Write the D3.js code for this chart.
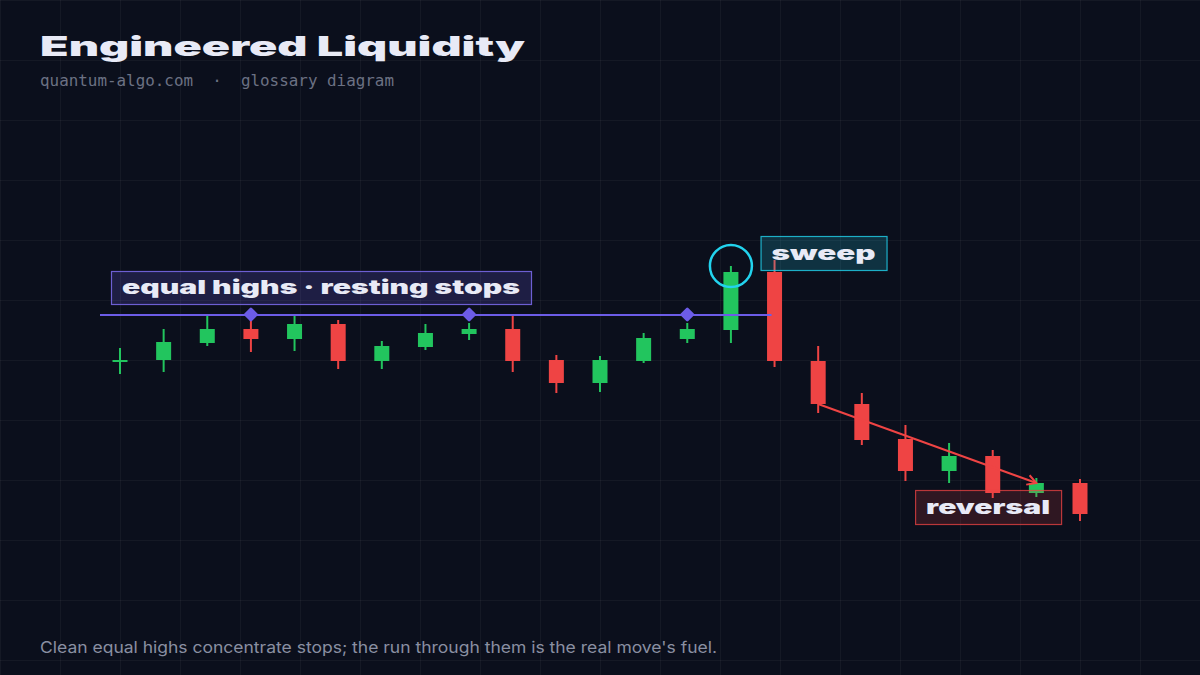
<!DOCTYPE html>
<html><head><meta charset="utf-8">
<script src="https://cdn.jsdelivr.net/npm/d3@7"></script>
<style>html,body{margin:0;padding:0;background:#0b0f1c;} svg{display:block}</style>
</head><body><svg id="c" width="1200" height="675"></svg>
<script>
// ---- data (price units) ----
const opens  = [117.9,118.0,119.7,121.1,120.1,121.6,117.9,119.3,120.6,121.1,118.0,115.7,117.9,120.1,121.0,126.8,117.9,113.6,110.1,106.9,108.4,104.7,105.7];
const highs  = [119.2,121.1,122.4,122.5,122.4,122.0,119.9,121.6,121.7,122.4,118.5,118.4,120.7,121.7,127.4,128.0,119.4,114.7,111.5,109.7,109.0,106.2,106.1];
const lows   = [116.6,116.8,119.4,118.8,118.9,117.1,117.1,119.0,120.0,116.8,114.7,114.8,117.7,119.7,119.7,117.3,112.7,109.5,105.9,105.7,104.2,104.3,101.9];
const closes = [118.0,119.8,121.1,120.1,121.6,117.9,119.4,120.7,121.1,117.9,115.7,118.0,120.2,121.1,126.8,117.9,113.6,110.0,106.9,108.4,104.7,105.7,102.6];
const equalHighLevel = 122.5;
const equalHighMarks = [3, 8, 13];
const sweepIndex = 14, sweepBar = 15;
const trendFrom = 16, trendTo = 21;
const titleText = "Engineered Liquidity";
const subtitleText = "quantum-algo.com  \u00b7  glossary diagram";
const footerText = "Clean equal highs concentrate stops; the run through them is the real move's fuel.";
const labelEq = "equal highs \u00b7 resting stops";
const labelSweep = "sweep";
const labelRev = "reversal";

const W = 1200, H = 675;
const GREEN = "#22c55e", RED = "#ef4444", PURPLE = "#6c5ce7", CYAN = "#22d3ee";
const svg = d3.select("#c");

svg.append("rect").attr("width", W).attr("height", H).attr("fill", "#0b0f1c");

// grid
const grid = svg.append("g").attr("stroke", "rgba(255,255,255,0.045)").attr("stroke-width", 1);
d3.range(0, W + 1, 60).forEach(x => grid.append("line").attr("x1", x + 0.5).attr("x2", x + 0.5).attr("y1", 0).attr("y2", H));
d3.range(0, H + 1, 60).forEach(y => grid.append("line").attr("y1", y + 0.5).attr("y2", y + 0.5).attr("x1", 0).attr("x2", W));

// scales
const idx = d3.range(opens.length);
const x = d3.scalePoint().domain(idx).range([120, 1080]);
const y = d3.scaleLinear().domain([100, 130]).range([540, 240]);
const bodyW = 15;

// candles
const cg = svg.append("g");
const candles = cg.selectAll("g.c").data(idx).join("g").attr("class", "c");
candles.append("line")
  .attr("x1", i => x(i)).attr("x2", i => x(i))
  .attr("y1", i => y(highs[i])).attr("y2", i => y(lows[i]))
  .attr("stroke", i => closes[i] >= opens[i] ? GREEN : RED).attr("stroke-width", 2);
candles.append("rect")
  .attr("x", i => x(i) - bodyW / 2).attr("width", bodyW)
  .attr("y", i => y(Math.max(opens[i], closes[i])))
  .attr("height", i => Math.max(2, y(Math.min(opens[i], closes[i])) - y(Math.max(opens[i], closes[i]))))
  .attr("fill", i => closes[i] >= opens[i] ? GREEN : RED);

// equal highs line
svg.append("line")
  .attr("x1", x(0) - 20).attr("x2", x(sweepBar) - 3)
  .attr("y1", y(equalHighLevel)).attr("y2", y(equalHighLevel))
  .attr("stroke", PURPLE).attr("stroke-width", 2);
svg.selectAll("path.dm").data(equalHighMarks).join("path").attr("class", "dm")
  .attr("d", "M0,-5.5L5.5,0L0,5.5L-5.5,0Z")
  .attr("transform", i => `translate(${x(i)},${y(equalHighLevel) - 0.5})`)
  .attr("fill", PURPLE).attr("stroke", PURPLE).attr("stroke-width", 2.8).attr("stroke-linejoin", "round");

// sweep circle
svg.append("circle").attr("cx", x(sweepIndex)).attr("cy", y(highs[sweepIndex])).attr("r", 21)
  .attr("fill", "none").attr("stroke", CYAN).attr("stroke-width", 2.5);

// trend arrow
const defs = svg.append("defs");
defs.append("marker").attr("id", "ah").attr("viewBox", "0 0 12 12").attr("refX", 10).attr("refY", 6)
  .attr("markerWidth", 12).attr("markerHeight", 12).attr("markerUnits", "userSpaceOnUse").attr("orient", "auto")
  .append("path").attr("d", "M1,1L10,6L1,11").attr("fill", "none").attr("stroke", RED).attr("stroke-width", 2);
svg.append("line")
  .attr("x1", x(trendFrom)).attr("y1", y(closes[trendFrom]))
  .attr("x2", x(trendTo)).attr("y2", y(Math.max(opens[trendTo], closes[trendTo])))
  .attr("stroke", RED).attr("stroke-width", 2).attr("marker-end", "url(#ah)");

// labels
const WIDE = "Inter, 'DejaVu Sans', sans-serif";
function label(left, top, tw, h, txt, fill, stroke, fs) {
  svg.append("rect").attr("x", left + 0.5).attr("y", top + 0.5).attr("width", tw + 22).attr("height", h)
    .attr("fill", fill).attr("stroke", stroke).attr("stroke-width", 1.2);
  svg.append("text").attr("x", left + 11).attr("y", top + h / 2 + fs * 0.36)
    .attr("textLength", tw).attr("lengthAdjust", "spacingAndGlyphs")
    .attr("font-family", WIDE).attr("font-weight", 900).attr("font-size", fs)
    .attr("fill", "#e8eaf6").text(txt);
}
label(x(0) - 9, y(equalHighLevel) - 44, 398, 33, labelEq, "rgba(108,92,231,0.2)", "rgba(124,108,240,0.85)", 19);
label(x(sweepBar) - 14, y(highs[sweepBar]) - 24, 104, 34, labelSweep, "rgba(34,211,238,0.18)", "rgba(34,211,238,0.8)", 19);
label(x(19) - 34, y(lows[20]) - 8, 124, 34, labelRev, "rgba(239,68,68,0.16)", "rgba(239,68,68,0.75)", 19);

// title etc.
svg.append("text").attr("x", 40).attr("y", 56).attr("textLength", 485).attr("lengthAdjust", "spacingAndGlyphs")
  .attr("font-family", WIDE).attr("font-weight", 900).attr("font-size", 27).attr("fill", "#e8eaf6").text(titleText);
svg.append("text").attr("x", 40).attr("y", 86).attr("xml:space", "preserve").style("white-space", "pre")
  .attr("font-family", "'DejaVu Sans Mono', monospace").attr("font-size", 15.9).attr("fill", "#6b7183").text(subtitleText);
svg.append("text").attr("x", 40).attr("y", 653).attr("textLength", 677).attr("lengthAdjust", "spacingAndGlyphs")
  .attr("font-family", "Inter, sans-serif").attr("font-size", 16).attr("fill", "#8a8fa2").text(footerText);
</script></body></html>
